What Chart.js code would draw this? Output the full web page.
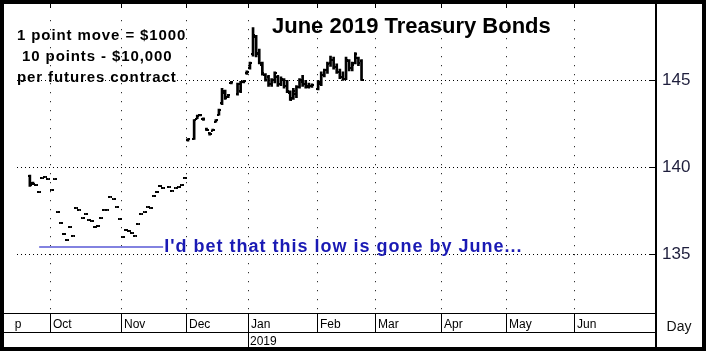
<!DOCTYPE html>
<html><head><meta charset="utf-8">
<script src="https://cdn.jsdelivr.net/npm/chart.js@4.4.0/dist/chart.umd.min.js"></script>
<style>html,body{margin:0;padding:0;background:#fff;}canvas{display:block;}</style>
</head><body>
<canvas id="c" width="708" height="356"></canvas>
<script>
// ---- DATA (trading-day index: 0 = 1 Oct 2018) ----
const days = [-7,-6,-5,-4,-3,-2,-1,
  0,1,2,3,4,5,6,7,8,9,10,11,12,13,14,15,16,17,18,19,20,21,22,
  23,24,25,26,27,28,29,30,31,32,33,34,35,36,38,39,40,41,42,43,
  44,46,47,48,49,50,51,52,53,54,55,56,57,58,60,61,62,63,
  64,65,66,67,68,69,70,71,72,73,74,75,76,77,78,79,80,81,82,83,84,
  86,87,88,89,90,91,92,93,94,95,96,97,98,99,100];
const opens = [139.5,139.1,138.95,138.55,139.35,139.45,139.3,
  138.7,139.3,137.4,136.8,136.15,135.8,136.55,136.05,137.65,137.55,137.05,137.3,136.95,136.9,136.55,136.6,137.05,137.55,137.55,138.3,138.15,137.7,137.0,
  135.95,136.4,136.35,136.2,136.05,136.7,137.3,137.4,137.7,137.65,138.35,138.6,138.9,138.8,138.85,138.65,138.8,138.85,138.95,139.4,
  141.55,141.6,142.8,143.0,142.8,142.2,141.95,142.1,142.6,143.0,143.7,144.3,144.05,144.85,144.2,144.4,144.9,145.4,
  145.7,146.5,147.5,146.6,145.9,145.3,145.2,144.8,145.0,145.2,144.8,145.0,144.7,144.3,144.0,144.2,144.6,144.9,144.8,144.6,144.7,
  144.5,144.8,145.3,145.6,146.0,146.2,145.8,145.5,145.2,145.1,146.1,145.7,146.0,146.3,146.1];
const highs = [139.55,139.15,138.95,138.55,139.35,139.45,139.3,
  138.7,139.3,137.4,136.8,136.15,135.8,136.55,136.05,137.65,137.55,137.05,137.3,136.95,136.9,136.55,136.6,137.05,137.55,137.55,138.3,138.15,137.7,137.0,
  135.95,136.4,136.35,136.2,136.05,136.7,137.3,137.4,137.7,137.65,138.35,138.6,138.9,138.8,138.85,138.65,138.8,138.85,138.95,139.4,
  141.65,142.75,143.0,143.05,142.85,142.25,142.0,142.2,142.75,143.35,144.55,144.45,144.2,144.95,144.85,144.95,145.0,145.55,
  146.05,148.05,147.6,146.8,146.05,145.4,145.3,145.1,145.5,145.3,145.2,145.1,145.0,144.4,144.55,144.7,145.1,145.3,145.0,144.85,144.8,
  145.0,145.5,145.65,146.05,146.4,146.35,145.95,145.65,145.5,146.35,146.2,146.05,146.6,146.35,146.2];
const lows = [138.9,139.0,138.95,138.55,139.35,139.45,139.3,
  138.7,139.3,137.4,136.8,136.15,135.8,136.55,136.05,137.65,137.55,137.05,137.3,136.95,136.9,136.55,136.6,137.05,137.55,137.55,138.3,138.15,137.7,137.0,
  135.95,136.4,136.35,136.2,136.05,136.7,137.3,137.4,137.7,137.65,138.35,138.6,138.9,138.8,138.85,138.65,138.8,138.85,138.95,139.4,
  141.5,141.6,142.8,142.95,142.7,142.1,141.85,142.1,142.6,143.0,143.6,143.9,144.0,144.8,144.15,144.3,144.85,145.35,
  145.65,146.4,146.35,145.95,145.3,144.95,144.65,144.65,144.85,144.65,144.7,144.55,144.3,143.85,143.9,144.0,144.55,144.65,144.55,144.55,144.6,
  144.45,144.7,145.2,145.4,145.8,145.65,145.4,145.1,145.0,145.05,145.55,145.55,145.95,145.85,145.0];
const closes = [138.95,139.05,138.95,138.55,139.35,139.45,139.3,
  138.7,139.3,137.4,136.8,136.15,135.8,136.55,136.05,137.65,137.55,137.05,137.3,136.95,136.9,136.55,136.6,137.05,137.55,137.55,138.3,138.15,137.7,137.0,
  135.95,136.4,136.35,136.2,136.05,136.7,137.3,137.4,137.7,137.65,138.35,138.6,138.9,138.8,138.85,138.65,138.8,138.85,138.95,139.4,
  141.6,142.7,142.95,143.0,142.75,142.15,141.9,142.15,142.7,143.3,144.4,144.0,144.15,144.9,144.8,144.9,144.95,145.5,
  146.0,147.6,146.5,146.0,145.4,145.0,144.8,145.0,145.4,144.8,145.1,144.7,144.4,143.9,144.4,144.6,145.0,144.8,144.65,144.7,144.75,
  144.9,145.3,145.6,145.95,146.2,145.8,145.5,145.2,145.1,146.2,145.7,145.9,146.5,146.0,145.0];
const monthLabels = ['Sep','Oct','Nov','Dec','Jan','Feb','Mar','Apr','May','Jun'];
const monthStartDays = [-17,0,23,44,64,86,105,126,147,169];
const yearLabel = '2019';
const yearStartDay = 64;
const priceLabels = [135,140,145];
const lowLineDays = [-4,36];
const lowLinePrice = 135.4;
const titleText = 'June 2019 Treasury Bonds';
const noteLines = ['1 point move = $1000',' 10 points - $10,000','per futures contract'];
const betText = "I'd bet that this low is gone by June...";
const axisUnitLabel = 'Day';

// ---- tick images for open (left) / close (right) ----
function makeTick(side){
  const c=document.createElement('canvas'); c.width=4; c.height=2;
  const g=c.getContext('2d'); g.fillStyle='#000';
  g.fillRect(side==='left'?0:2,0,2,2); return c;
}
const openTick=makeTick('left'), closeTick=makeTick('right');
const FONT='"Liberation Sans", Arial, sans-serif';

const decor = {
  id:'decor',
  beforeDatasetsDraw(chart){
    const ctx=chart.ctx, a=chart.chartArea, xs=chart.scales.x, ys=chart.scales.y;
    ctx.save();
    ctx.strokeStyle='#000'; ctx.lineWidth=1;
    ctx.setLineDash([1,3]);
    priceLabels.forEach(v=>{
      const y=Math.round(ys.getPixelForValue(v))+0.5;
      ctx.beginPath(); ctx.moveTo(a.left+11,y); ctx.lineTo(a.right-6,y); ctx.stroke();
    });
    ctx.setLineDash([1,8]);
    monthStartDays.forEach(d=>{
      const x=Math.round(xs.getPixelForValue(d-0.5))+0.5;
      if(x<a.left+2||x>a.right-2) return;
      ctx.beginPath(); ctx.moveTo(x,a.top+4); ctx.lineTo(x,a.bottom-2); ctx.stroke();
    });
    ctx.restore();
  },
  afterDraw(chart){
    const ctx=chart.ctx, a=chart.chartArea, xs=chart.scales.x, ys=chart.scales.y;
    ctx.save();
    ctx.fillStyle='#000'; ctx.strokeStyle='#000'; ctx.lineWidth=1; ctx.setLineDash([]);
    const rowTop=Math.round(a.bottom), rowMid=rowTop+19, rowBot=rowTop+34;
    ctx.fillRect(4,rowTop,a.right-4,1);
    ctx.fillRect(4,rowMid,a.right-4,1);
    ys.ticks.forEach(t=>{
      if(Math.abs(t.value*2-Math.round(t.value*2))>1e-6) return;
      const y=Math.round(ys.getPixelForValue(t.value));
      if(y<a.top+2||y>a.bottom-2) return;
      ctx.fillRect(a.right-6,y,6,1);
    });
    ctx.font='12px '+FONT; ctx.textBaseline='alphabetic'; ctx.textAlign='left';
    monthStartDays.forEach((d,i)=>{
      const x=Math.round(xs.getPixelForValue(d-0.5));
      if(x>=a.left && x<a.right){
        ctx.fillRect(x,rowTop,1,rowMid-rowTop);
        ctx.fillRect(x,4,1,4);
      }
      ctx.save();
      ctx.beginPath(); ctx.rect(14,rowTop,a.right-14,rowMid-rowTop); ctx.clip();
      ctx.fillText(monthLabels[i],x+3,rowTop+15);
      ctx.restore();
    });
    const yx=Math.round(xs.getPixelForValue(yearStartDay-0.5));
    ctx.fillRect(yx,rowMid,1,rowBot-rowMid);
    ctx.fillText(yearLabel,yx+2,rowMid+13);
    ctx.fillRect(Math.round(a.right)-1,3,2,346);
    ctx.font='14px '+FONT; ctx.textAlign='center';
    ctx.fillStyle='#111';
    ctx.fillText(axisUnitLabel,(a.right+702)/2,rowTop+18);
    ctx.lineWidth=4; ctx.strokeStyle='#000';
    ctx.strokeRect(2,2,702,347);
    ctx.textAlign='left'; ctx.fillStyle='#000';
    ctx.font='bold 22px '+FONT;
    ctx.fillText(titleText,272,33);
    ctx.font='bold 15px '+FONT;
    if('letterSpacing' in ctx) ctx.letterSpacing='0.9px';
    noteLines.forEach((s,i)=>ctx.fillText(s,17,40+i*21));
    ctx.font='bold 18px '+FONT;
    if('letterSpacing' in ctx) ctx.letterSpacing='1px';
    ctx.fillStyle='#1a1ab4';
    ctx.fillText(betText, xs.getPixelForValue(lowLineDays[1])+1, ys.getPixelForValue(lowLinePrice)+5);
    ctx.restore();
  }
};

new Chart(document.getElementById('c'),{
  type:'bar',
  data:{datasets:[
    {type:'bar', data:days.map((d,i)=>({x:d,y:[lows[i],highs[i]]})), backgroundColor:'#000', borderWidth:0, barThickness:2, grouped:false},
    {type:'scatter', data:days.map((d,i)=>({x:d,y:opens[i]})), pointStyle:openTick, pointRadius:2, pointHoverRadius:2},
    {type:'scatter', data:days.map((d,i)=>({x:d,y:closes[i]})), pointStyle:closeTick, pointRadius:2, pointHoverRadius:2},
    {type:'line', data:lowLineDays.map(d=>({x:d,y:lowLinePrice})), borderColor:'#8282e0', borderWidth:2, pointRadius:0, fill:false}
  ]},
  options:{
    responsive:false, animation:false, devicePixelRatio:1,
    layout:{padding:{left:6,top:5,right:0,bottom:43}},
    plugins:{legend:{display:false},tooltip:{enabled:false}},
    events:[],
    scales:{
      x:{type:'linear',min:-14.7,max:195,display:false,offset:false},
      y:{type:'linear',position:'right',min:131.6,max:148.7,
        afterFit(s){s.width=52;},
        grid:{display:false,drawTicks:false},border:{display:false},
        ticks:{stepSize:0.5,autoSkip:false,includeBounds:false,padding:6,color:'#1e1e3c',
          font:{family:'"Liberation Sans", Arial, sans-serif',size:17},
          callback:(v)=>priceLabels.some(p=>Math.abs(p-v)<1e-6)?String(Math.round(v)):null}
      }
    }
  },
  plugins:[decor]
});
</script>
</body></html>
